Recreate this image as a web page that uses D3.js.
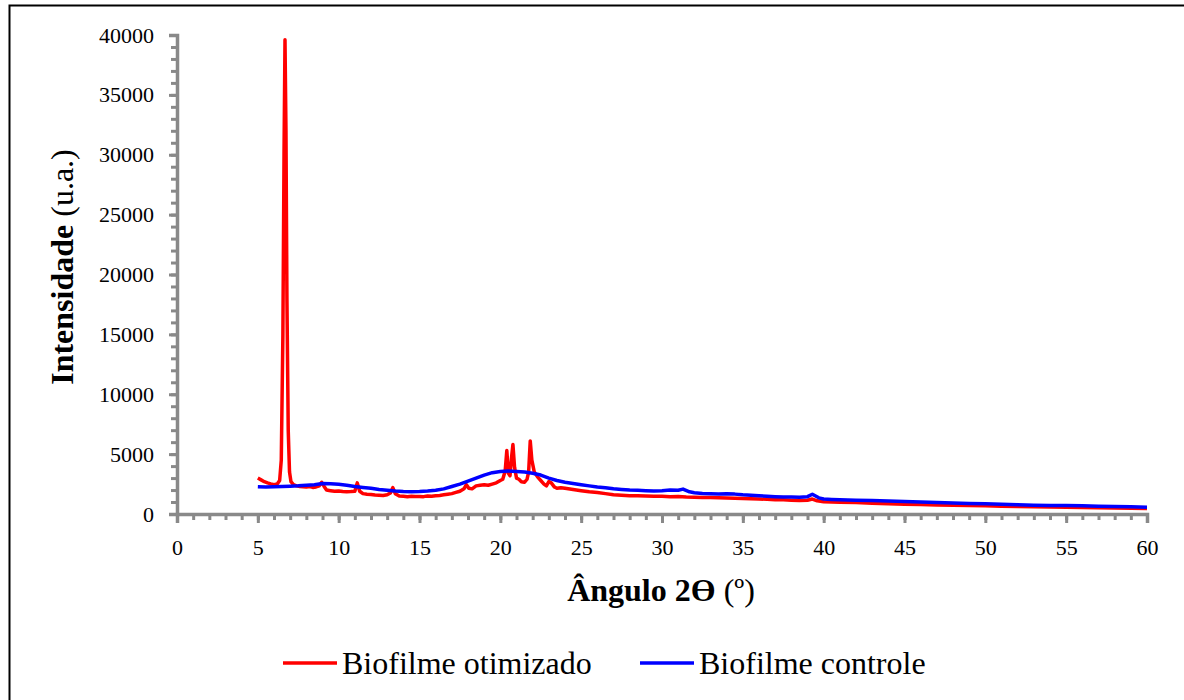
<!DOCTYPE html>
<html>
<head>
<meta charset="utf-8">
<script src="https://cdn.jsdelivr.net/npm/d3@7"></script>
<style>
  html, body { margin: 0; padding: 0; background: #fff; }
  svg { display: block; }
  text { font-family: "Liberation Serif", "Times New Roman", serif; fill: #000; }
</style>
</head>
<body>
<svg id="chart" width="1184" height="700"></svg>
<script>
// ---- Data ----
const xTicks = [0, 5, 10, 15, 20, 25, 30, 35, 40, 45, 50, 55, 60];
const yTicks = [0, 5000, 10000, 15000, 20000, 25000, 30000, 35000, 40000];
const seriesNames = ["Biofilme otimizado", "Biofilme controle"];

const otimizadoX = [5.0,5.2,5.4,5.6,5.8,6.0,6.2,6.35,6.45,6.55,6.62,6.68,6.74,6.8,6.88,6.96,7.05,7.2,7.4,7.6,7.8,8.0,8.2,8.4,8.6,8.8,8.95,9.1,9.25,9.5,9.75,10.0,10.25,10.5,10.75,11.0,11.15,11.3,11.5,11.75,12.0,12.25,12.5,12.75,13.0,13.2,13.35,13.5,13.75,14.0,14.25,14.5,14.75,15.0,15.25,15.5,15.75,16.0,16.25,16.5,16.75,17.0,17.25,17.5,17.75,17.9,18.05,18.25,18.5,18.75,19.0,19.25,19.5,19.75,20.0,20.15,20.3,20.4,20.5,20.6,20.7,20.78,20.88,21.0,21.15,21.3,21.5,21.65,21.75,21.85,21.95,22.1,22.3,22.5,22.7,22.85,23.0,23.15,23.35,23.5,23.75,24.0,24.5,25.0,25.5,26.0,26.5,27.0,27.5,28.0,28.5,29.0,29.5,30.0,30.5,31.0,31.5,32.0,32.5,33.0,33.5,34.0,34.5,35.0,35.5,36.0,36.5,37.0,37.5,38.0,38.5,39.0,39.3,39.6,40.0,40.5,41,42,43,44,45,46,47,48,49,50,51,52,53,54,55,56,57,58,59,60];
const otimizadoY = [3000,2850,2700,2600,2520,2450,2500,2800,4500,15000,30000,39600,32000,18000,7000,3500,2700,2450,2350,2300,2280,2250,2300,2220,2260,2350,2650,2300,2000,1950,1900,1920,1880,1850,1870,1900,2600,1900,1700,1650,1620,1580,1560,1540,1600,1750,2200,1700,1500,1480,1450,1480,1460,1470,1450,1500,1480,1520,1550,1600,1650,1700,1800,1900,2100,2450,2150,2100,2350,2400,2450,2400,2500,2600,2800,2900,3600,5300,3400,3200,4800,5800,3900,3000,2900,2700,2650,2900,3500,6100,4500,3500,3100,2800,2500,2350,2700,2600,2250,2150,2200,2150,2050,1950,1850,1800,1700,1600,1560,1520,1530,1500,1480,1480,1450,1470,1420,1400,1380,1370,1360,1340,1320,1300,1280,1250,1230,1200,1180,1150,1120,1150,1250,1100,1030,1000,980,950,900,860,820,790,760,730,700,680,650,630,600,580,560,540,520,500,480,450];

const controleX = [5.0,5.5,6.0,6.5,7.0,7.5,8.0,8.5,9.0,9.5,10.0,10.5,11.0,11.5,12.0,12.5,13.0,13.5,14.0,14.5,15.0,15.5,16.0,16.5,17.0,17.5,18.0,18.5,19.0,19.5,20.0,20.5,21.0,21.5,22.0,22.5,23.0,23.5,24.0,24.5,25.0,25.5,26.0,26.5,27.0,27.5,28.0,28.5,29.0,29.5,30.0,30.5,31.0,31.3,31.7,32.0,32.5,33.0,33.5,34.0,34.5,35.0,35.5,36.0,36.5,37.0,37.5,38.0,38.5,39.0,39.3,39.7,40,40.5,41,42,43,44,45,46,47,48,49,50,51,52,53,54,55,56,57,58,59,60];
const controleY = [2280,2250,2270,2300,2320,2350,2400,2450,2550,2520,2480,2400,2300,2220,2150,2050,1980,1920,1880,1860,1880,1920,1980,2100,2300,2500,2750,3000,3250,3450,3550,3600,3550,3500,3400,3250,3000,2800,2650,2550,2450,2350,2250,2200,2100,2050,2000,1980,1950,1930,1950,2000,1980,2080,1850,1780,1720,1700,1680,1700,1660,1600,1560,1520,1480,1450,1430,1420,1400,1450,1650,1350,1250,1220,1200,1150,1120,1080,1050,1000,960,920,880,860,820,780,740,720,700,680,650,620,600,570];

const colors = ["#ff0000", "#0000ff"];

// ---- Chart ----
const svg = d3.select("#chart");

// outer border (extends beyond right/bottom)
svg.append("rect").attr("x", 9.5).attr("y", 5.5).attr("width", 1200).attr("height", 720)
  .attr("fill", "none").attr("stroke", "#000").attr("stroke-width", 2);

const x = d3.scaleLinear().domain([0, 60]).range([177, 1147]);
const y = d3.scaleLinear().domain([0, 40000]).range([514, 35]);
const axisColor = "#898989";

const gxMinor = svg.append("g").attr("transform", `translate(0,${y(0)})`)
  .call(d3.axisBottom(x).tickValues(d3.range(0, 61, 1)).tickSize(6).tickFormat(""));
const gx = svg.append("g").attr("transform", `translate(0,${y(0)})`)
  .call(d3.axisBottom(x).tickValues(xTicks).tickSize(9).tickPadding(16).tickFormat(d3.format("d")));
const gyMinor = svg.append("g").attr("transform", `translate(${x(0)},0)`)
  .call(d3.axisLeft(y).tickValues(d3.range(0, 40001, 1000)).tickSize(6).tickFormat(""));
const gy = svg.append("g").attr("transform", `translate(${x(0)},0)`)
  .call(d3.axisLeft(y).tickValues(yTicks).tickSize(8).tickPadding(15).tickFormat(d3.format("d")));

[gxMinor, gx, gyMinor, gy].forEach(g => {
  g.select(".domain").attr("stroke", axisColor).attr("stroke-width", 3.5);
  g.selectAll(".tick line").attr("stroke", axisColor).attr("stroke-width", 3);
  g.selectAll(".tick text").attr("fill", "#000").style("font-size", "22px")
    .style("font-family", '"Liberation Serif", "Times New Roman", serif');
});
gxMinor.select(".domain").remove();
gyMinor.select(".domain").remove();

// lines
const line = d3.line().x(d => x(d[0])).y(d => y(d[1]));
const otimizado = otimizadoX.map((v, i) => [v, otimizadoY[i]]);
const controle = controleX.map((v, i) => [v, controleY[i]]);

svg.append("path").datum(otimizado).attr("d", line)
  .attr("fill", "none").attr("stroke", colors[0]).attr("stroke-width", 3.5).attr("stroke-linejoin", "round");
svg.append("path").datum(controle).attr("d", line)
  .attr("fill", "none").attr("stroke", colors[1]).attr("stroke-width", 3.5).attr("stroke-linejoin", "round");

// axis titles
const xt = svg.append("text").attr("x", 661).attr("y", 601).attr("text-anchor", "middle").style("font-size", "32px");
xt.append("tspan").attr("font-weight", "bold").text("Ângulo 2Ө");
xt.append("tspan").text(" (º)");

const yt = svg.append("text").attr("transform", "translate(73,267) rotate(-90)").attr("text-anchor", "middle").style("font-size", "32px");
yt.append("tspan").attr("font-weight", "bold").text("Intensidade");
yt.append("tspan").text(" (u.a.)");

// legend
const legendItems = [
  { name: seriesNames[0], color: colors[0], x0: 283 },
  { name: seriesNames[1], color: colors[1], x0: 640 }
];
legendItems.forEach(it => {
  svg.append("line").attr("x1", it.x0).attr("x2", it.x0 + 54).attr("y1", 663).attr("y2", 663)
    .attr("stroke", it.color).attr("stroke-width", 3.5);
  svg.append("text").attr("x", it.x0 + 59).attr("y", 674).style("font-size", "32px").text(it.name);
});
</script>
</body>
</html>
